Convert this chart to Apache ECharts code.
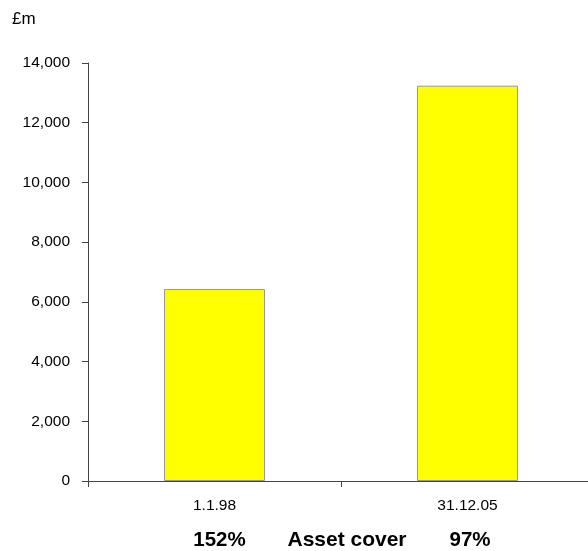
<!DOCTYPE html>
<html>
<head>
<meta charset="utf-8">
<script src="https://cdn.jsdelivr.net/npm/echarts@6/dist/echarts.min.js"></script>
<style>html,body{margin:0;padding:0;background:#fff;overflow:hidden}#c{width:600px;height:551px}</style>
</head>
<body>
<div id="c"></div>
<script>
const categories = ['1.1.98', '31.12.05'];
const values = [6430, 13240];
const coverLabels = ['152%', '97%'];
const coverTitle = 'Asset cover';
const unitLabel = '£m';

const chart = echarts.init(document.getElementById('c'), null, {renderer: 'canvas'});
const font = 'Liberation Sans, Arial, sans-serif';
chart.setOption({
  animation: false,
  grid: {left: 88, right: 6, top: 63, bottom: 70, containLabel: false},
  xAxis: {
    type: 'category',
    data: categories,
    axisLine: {lineStyle: {color: '#444', width: 1}},
    axisTick: {show: true, length: 6, lineStyle: {color: '#444'}},
    axisLabel: {color: '#000', fontSize: 15.5, fontFamily: font, margin: 17}
  },
  yAxis: {
    type: 'value',
    min: 0, max: 14000, interval: 2000,
    axisLine: {show: true, lineStyle: {color: '#444', width: 1}},
    axisTick: {show: true, length: 6, lineStyle: {color: '#444'}},
    splitLine: {show: false},
    axisLabel: {color: '#000', fontSize: 15.5, fontFamily: font, margin: 18,
      formatter: v => v.toLocaleString('en-GB')}
  },
  series: [{
    type: 'bar',
    data: values,
    barWidth: 101,
    itemStyle: {color: '#ffff00', borderColor: '#999', borderWidth: 1}
  }],
  graphic: [
    {type: 'text', x: 12, y: 19, style: {text: unitLabel, fill: '#000', font: '17px ' + font, textAlign: 'left', textVerticalAlign: 'middle'}},
    {type: 'text', x: 219.5, y: 540, style: {text: coverLabels[0], fill: '#000', font: 'bold 20.5px ' + font, textAlign: 'center', textVerticalAlign: 'middle'}},
    {type: 'text', x: 347, y: 540, style: {text: coverTitle, fill: '#000', font: 'bold 21px ' + font, textAlign: 'center', textVerticalAlign: 'middle'}},
    {type: 'text', x: 470, y: 540, style: {text: coverLabels[1], fill: '#000', font: 'bold 20.5px ' + font, textAlign: 'center', textVerticalAlign: 'middle'}}
  ]
});
</script>
</body>
</html>
